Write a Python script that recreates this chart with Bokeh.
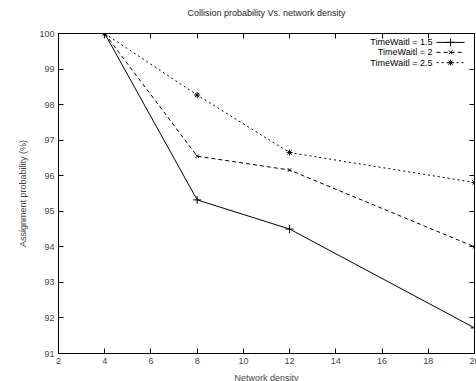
from bokeh.plotting import figure
from bokeh.models import Range1d, LinearAxis, FixedTicker, Label, CustomLabelingPolicy
from bokeh.embed import file_html
from bokeh.resources import INLINE

density = [4, 8, 12, 20]
tw15 = [100.0, 95.32, 94.5, 91.72]
tw20 = [100.0, 96.55, 96.16, 94.0]
tw25 = [100.0, 98.27, 96.65, 95.81]
labels = ["TimeWaitl = 1.5", "TimeWaitl = 2", "TimeWaitl = 2.5"]
x_ticks = [2, 4, 6, 8, 10, 12, 14, 16, 18, 20]
y_ticks = [91, 92, 93, 94, 95, 96, 97, 98, 99, 100]

FONT = "Liberation Sans"

p = figure(output_backend="svg", toolbar_location=None,
           frame_width=416, frame_height=320,
           x_range=Range1d(2, 20), y_range=Range1d(91, 100),
           min_border_left=58, min_border_right=2, min_border_top=31, min_border_bottom=30,
           title="Collision probability Vs. network density")
p.title.text_font = FONT
p.title.text_font_size = "9px"
p.title.text_font_style = "normal"
p.title.align = "center"
p.title.text_color = "#222222"
p.background_fill_color = "white"
p.border_fill_color = "white"
p.outline_line_color = "black"
p.outline_line_width = 1
p.xgrid.visible = False
p.ygrid.visible = False

for ax, ticks in ((p.xaxis[0], x_ticks), (p.yaxis[0], y_ticks)):
    ax.ticker = FixedTicker(ticks=ticks)
    ax.major_tick_in = 5
    ax.major_tick_out = 0
    ax.minor_tick_line_color = None
    ax.major_label_text_font = FONT
    ax.major_label_text_font_size = "9px"
    ax.axis_label_text_font = FONT
    ax.axis_label_text_font_size = "9px"
    ax.axis_label_text_font_style = "normal"
    ax.axis_line_color = "black"
    ax.major_tick_line_color = "black"
    ax.major_label_standoff = 4
p.xaxis[0].axis_label = "Network density"
p.xaxis[0].axis_label_standoff = 6
p.yaxis[0].axis_label = "Assignment probability (%)"
p.yaxis[0].axis_label_standoff = 8

hide_all = CustomLabelingPolicy(code="""
for (let i = 0; i < indices.size; i++) { indices.unset(i) }
return indices
""")
top = LinearAxis(ticker=FixedTicker(ticks=x_ticks), major_tick_in=5, major_tick_out=0,
                 minor_tick_line_color=None, major_label_policy=hide_all,
                 major_label_standoff=0)
right = LinearAxis(ticker=FixedTicker(ticks=y_ticks), major_tick_in=5, major_tick_out=0,
                   minor_tick_line_color=None, major_label_policy=hide_all,
                   major_label_standoff=0)
p.add_layout(top, "above")
p.add_layout(right, "right")

series = [(tw15, "solid", "cross", 8), (tw20, "4 3", "x", 5), (tw25, "2 3", "asterisk", 6)]
for vals, dash, marker, size in series:
    p.line(density, vals, line_color="black", line_width=1, line_dash=dash)
    p.scatter(density, vals, marker=marker, size=size, line_color="black", fill_color=None)

# legend (gnuplot style: text left, sample right)
leg_x0, leg_x1 = 18.36, 19.57
leg_rows = [99.75, 99.47, 99.18]
for (vals, dash, marker, size), lab, ly in zip(series, labels, leg_rows):
    p.line([leg_x0, leg_x1], [ly, ly], line_color="black", line_width=1, line_dash=dash)
    p.scatter([(leg_x0 + leg_x1) / 2], [ly], marker=marker, size=size, line_color="black", fill_color=None)
    p.add_layout(Label(x=leg_x0 - 0.18, y=ly, text=lab, text_align="right", text_baseline="middle",
                       text_font=FONT, text_font_size="9px", text_color="black"))

open("out.html", "w").write(file_html(p, INLINE))
